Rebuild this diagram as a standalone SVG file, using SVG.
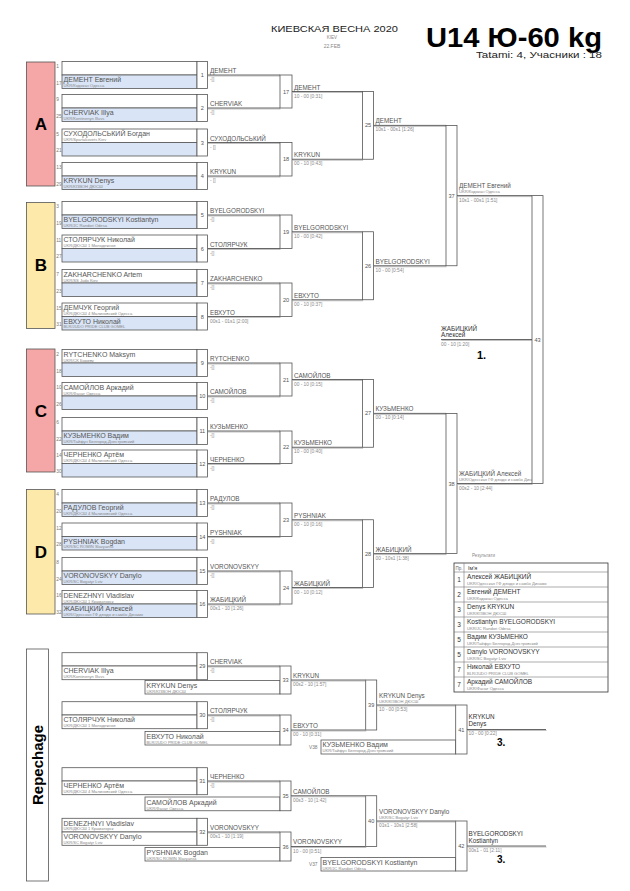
<svg xmlns="http://www.w3.org/2000/svg" width="630" height="891" viewBox="0 0 630 891">
<style>
text{font-family:"Liberation Sans",Arial,sans-serif}
.nm{font-size:7px;fill:#555}
.cl{font-size:4.1px;fill:#888}
.sd{font-size:4.8px;fill:#777}
.w{font-size:6.3px;fill:#555}
.sc{font-size:4.8px;fill:#888}
.num{font-size:5.6px;fill:#555;text-anchor:middle}
.bx{fill:#fff;stroke:#555;stroke-width:0.8}
.bxb{fill:#d9e4f6;stroke:#555;stroke-width:0.8}
.nb{fill:#fff;stroke:#555;stroke-width:0.8}
.ln{stroke:#555;stroke-width:0.9;fill:none}
.sh{stroke:#bbb;stroke-width:0.9;fill:none}
.pool{font-size:17px;font-weight:bold;fill:#000;text-anchor:middle}
.fw{font-size:6.3px;fill:#333}
.rk{font-size:6.5px;fill:#333;text-anchor:middle}
.rn{font-size:6.5px;fill:#333}
</style>
<rect width="630" height="891" fill="#fff"/>
<g id="header">
<text x="334.5" y="31.5" font-size="9" fill="#222" text-anchor="middle" textLength="127" lengthAdjust="spacingAndGlyphs">КИЕВСКАЯ ВЕСНА 2020</text>
<text x="332" y="39" font-size="4.5" fill="#888" text-anchor="middle">KIEV</text>
<text x="332" y="48" font-size="5" fill="#888" text-anchor="middle">22.FEB</text>
<text x="426" y="46.5" font-size="27" font-weight="bold" fill="#000" textLength="176" lengthAdjust="spacingAndGlyphs">U14 Ю-60 kg</text>
<text x="476" y="58" font-size="8.5" fill="#222" textLength="126" lengthAdjust="spacingAndGlyphs">Tatami: 4, Учасники : 18</text>
</g>
<g id="pools">
<g id="poolA"><rect x="26.5" y="62" width="28.5" height="124" fill="#f5a6a6" stroke="#555" stroke-width="0.8"/><text class="pool" x="41" y="130">A</text></g>
<g id="poolB"><rect x="26.5" y="202.5" width="28.5" height="126" fill="#fde9a9" stroke="#555" stroke-width="0.8"/><text class="pool" x="41" y="271">B</text></g>
<g id="poolC"><rect x="26.5" y="349" width="28.5" height="123" fill="#f5a6a6" stroke="#555" stroke-width="0.8"/><text class="pool" x="41" y="417">C</text></g>
<g id="poolD"><rect x="26.5" y="489.5" width="28.5" height="124.5" fill="#fde9a9" stroke="#555" stroke-width="0.8"/><text class="pool" x="41" y="558">D</text></g>
<g id="repechage"><rect x="26.5" y="649" width="22" height="232" fill="#fff" stroke="#555" stroke-width="0.8"/><text x="43" y="765" font-size="15" font-weight="bold" fill="#000" text-anchor="middle" transform="rotate(-90 43 765)">Repechage</text></g>
</g>
<g id="connectors">
<g class="sh" transform="translate(0.6,1)">
<path d="M207.5,75H280M207.5,108H280M207.5,142.5H280M207.5,176H280M207.5,215H280M207.5,248.5H280M207.5,283H280M207.5,316.5H280M207.5,363H280M207.5,396H280M207.5,431H280M207.5,463.5H280M207.5,503H280M207.5,536.5H280M207.5,571H280M207.5,604H280"/>
<path d="M292,91.5H362.5M292,159.25H362.5M292,231.75H362.5M292,299.75H362.5M292,379.5H362.5M292,447.25H362.5M292,519.75H362.5M292,587.5H362.5"/>
<path d="M373.5,125.4H446M373.5,265.75H446M373.5,413.4H446M373.5,553.6H446M457,195.6H532M457,483.5H532M441,339.5H532"/>
<path d="M207.5,666H280M207.5,715H280M207.5,781H280M207.5,832H280M291,680H365.7M291,730H365.7M291,795.75H365.7M291,846.5H365.7M376.7,705H455.7M376.7,821H455.7M467,729.5H546M467,846H546"/>
</g>
<path class="ln" d="M207.5,75H280M207.5,108H280M207.5,142.5H280M207.5,176H280M207.5,215H280M207.5,248.5H280M207.5,283H280M207.5,316.5H280M207.5,363H280M207.5,396H280M207.5,431H280M207.5,463.5H280M207.5,503H280M207.5,536.5H280M207.5,571H280M207.5,604H280"/>
<path class="ln" d="M292,91.5H362.5M292,159.25H362.5M292,231.75H362.5M292,299.75H362.5M292,379.5H362.5M292,447.25H362.5M292,519.75H362.5M292,587.5H362.5"/>
<path class="ln" d="M373.5,125.4H446M373.5,265.75H446M373.5,413.4H446M373.5,553.6H446"/>
<path class="ln" d="M457,195.6H532M457,483.5H532M441,339.5H532"/>
<path class="ln" d="M207.5,666H280M207.5,715H280M207.5,781H280M207.5,832H280"/>
<path class="ln" d="M291,680H365.7M291,730H365.7M291,795.75H365.7M291,846.5H365.7"/>
<path class="ln" d="M376.7,705H455.7M376.7,821H455.7M467,729.5H546M467,846H546"/>
</g>
<g id="m1" transform="translate(0,61.5)"><rect class="bx" x="62" y="0" width="135" height="13.5"/><rect class="bxb" x="62" y="13.5" width="135" height="13.5"/><rect class="nb" x="197" y="0" width="10.5" height="27"/><text class="num" x="202.3" y="15.5">1</text><text class="sd" x="56.3" y="6.5">1</text><text class="sd" x="56.3" y="23">17</text><text class="nm" x="63.5" y="20.8">ДЕМЕНТ Евгений</text><text class="cl" x="63.5" y="25.4">UKR/Кодокан Одесса</text><text class="w" x="210" y="11.5">ДЕМЕНТ</text><text class="sc" x="210" y="19.5">-[]</text></g>
<g id="m2" transform="translate(0,94.5)"><rect class="bx" x="62" y="0" width="135" height="13.5"/><rect class="bxb" x="62" y="13.5" width="135" height="13.5"/><rect class="nb" x="197" y="0" width="10.5" height="27"/><text class="num" x="202.3" y="15.5">2</text><text class="sd" x="56.3" y="6.5">9</text><text class="sd" x="56.3" y="23">25</text><text class="nm" x="63.5" y="20.8">CHERVIAK Illya</text><text class="cl" x="63.5" y="25.4">UKR/Kontinenyn Illuvs</text><text class="w" x="210" y="11.5">CHERVIAK</text><text class="sc" x="210" y="19.5">-[]</text></g>
<g id="m3" transform="translate(0,129)"><rect class="bx" x="62" y="0" width="135" height="13.5"/><rect class="bxb" x="62" y="13.5" width="135" height="13.5"/><rect class="nb" x="197" y="0" width="10.5" height="27"/><text class="num" x="202.3" y="15.5">3</text><text class="sd" x="56.3" y="6.5">5</text><text class="sd" x="56.3" y="23">21</text><text class="nm" x="63.5" y="7.4">СУХОДОЛЬСЬКИЙ Богдан</text><text class="cl" x="63.5" y="12.2">UKR/Spartakovets Kiev</text><text class="w" x="210" y="11.5">СУХОДОЛЬСЬКИЙ</text><text class="sc" x="210" y="19.5">- []</text></g>
<g id="m4" transform="translate(0,162.5)"><rect class="bx" x="62" y="0" width="135" height="13.5"/><rect class="bxb" x="62" y="13.5" width="135" height="13.5"/><rect class="nb" x="197" y="0" width="10.5" height="27"/><text class="num" x="202.3" y="15.5">4</text><text class="sd" x="56.3" y="6.5">13</text><text class="sd" x="56.3" y="23">29</text><text class="nm" x="63.5" y="20.8">KRYKUN Denys</text><text class="cl" x="63.5" y="25.4">UKR/КІЗВОН ДЮСШ</text><text class="w" x="210" y="11.5">KRYKUN</text><text class="sc" x="210" y="19.5">- []</text></g>
<g id="m5" transform="translate(0,201.5)"><rect class="bx" x="62" y="0" width="135" height="13.5"/><rect class="bxb" x="62" y="13.5" width="135" height="13.5"/><rect class="nb" x="197" y="0" width="10.5" height="27"/><text class="num" x="202.3" y="15.5">5</text><text class="sd" x="56.3" y="6.5">3</text><text class="sd" x="56.3" y="23">19</text><text class="nm" x="63.5" y="20.8">BYELGORODSKYI Kostiantyn</text><text class="cl" x="63.5" y="25.4">UKR/JC Randori Odesa</text><text class="w" x="210" y="11.5">BYELGORODSKYI</text><text class="sc" x="210" y="19.5">-[]</text></g>
<g id="m6" transform="translate(0,235)"><rect class="bx" x="62" y="0" width="135" height="13.5"/><rect class="bxb" x="62" y="13.5" width="135" height="13.5"/><rect class="nb" x="197" y="0" width="10.5" height="27"/><text class="num" x="202.3" y="15.5">6</text><text class="sd" x="56.3" y="6.5">11</text><text class="sd" x="56.3" y="23">27</text><text class="nm" x="63.5" y="7.4">СТОЛЯРЧУК Николай</text><text class="cl" x="63.5" y="12.2">UKR/ДЮСШ 1 Молодежное</text><text class="w" x="210" y="11.5">СТОЛЯРЧУК</text><text class="sc" x="210" y="19.5">-[]</text></g>
<g id="m7" transform="translate(0,269.5)"><rect class="bx" x="62" y="0" width="135" height="13.5"/><rect class="bxb" x="62" y="13.5" width="135" height="13.5"/><rect class="nb" x="197" y="0" width="10.5" height="27"/><text class="num" x="202.3" y="15.5">7</text><text class="sd" x="56.3" y="6.5">7</text><text class="sd" x="56.3" y="23">23</text><text class="nm" x="63.5" y="7.4">ZAKHARCHENKO Artem</text><text class="cl" x="63.5" y="12.2">UKR/SS Judo Kiev</text><text class="w" x="210" y="11.5">ZAKHARCHENKO</text><text class="sc" x="210" y="19.5">-[]</text></g>
<g id="m8" transform="translate(0,303)"><rect class="bx" x="62" y="0" width="135" height="13.5"/><rect class="bxb" x="62" y="13.5" width="135" height="13.5"/><rect class="nb" x="197" y="0" width="10.5" height="27"/><text class="num" x="202.3" y="15.5">8</text><text class="sd" x="56.3" y="6.5">15</text><text class="sd" x="56.3" y="23">31</text><text class="nm" x="63.5" y="7.4">ДЕМЧУК Георгий</text><text class="cl" x="63.5" y="12.2">UKR/ДЮСШ 4 Малиновский Одесса</text><text class="nm" x="63.5" y="20.8">ЕВХУТО Николай</text><text class="cl" x="63.5" y="25.4">BLR/JUDO PRIDE CLUB GOMEL</text><text class="w" x="210" y="11.5">ЕВХУТО</text><text class="sc" x="210" y="19.5">00s1 - 01s1 [2:00]</text></g>
<g id="m9" transform="translate(0,349.5)"><rect class="bx" x="62" y="0" width="135" height="13.5"/><rect class="bxb" x="62" y="13.5" width="135" height="13.5"/><rect class="nb" x="197" y="0" width="10.5" height="27"/><text class="num" x="202.3" y="15.5">9</text><text class="sd" x="56.3" y="6.5">2</text><text class="sd" x="56.3" y="23">18</text><text class="nm" x="63.5" y="7.4">RYTCHENKO Maksym</text><text class="cl" x="63.5" y="12.2">UKR/CK Бориву</text><text class="w" x="210" y="11.5">RYTCHENKO</text><text class="sc" x="210" y="19.5">-[]</text></g>
<g id="m10" transform="translate(0,382.5)"><rect class="bx" x="62" y="0" width="135" height="13.5"/><rect class="bxb" x="62" y="13.5" width="135" height="13.5"/><rect class="nb" x="197" y="0" width="10.5" height="27"/><text class="num" x="202.3" y="15.5">10</text><text class="sd" x="56.3" y="6.5">10</text><text class="sd" x="56.3" y="23">26</text><text class="nm" x="63.5" y="7.4">САМОЙЛОВ Аркадий</text><text class="cl" x="63.5" y="12.2">UKR/Фанат Одесса</text><text class="w" x="210" y="11.5">САМОЙЛОВ</text><text class="sc" x="210" y="19.5">-[]</text></g>
<g id="m11" transform="translate(0,417.5)"><rect class="bx" x="62" y="0" width="135" height="13.5"/><rect class="bxb" x="62" y="13.5" width="135" height="13.5"/><rect class="nb" x="197" y="0" width="10.5" height="27"/><text class="num" x="202.3" y="15.5">11</text><text class="sd" x="56.3" y="6.5">6</text><text class="sd" x="56.3" y="23">22</text><text class="nm" x="63.5" y="20.8">КУЗЬМЕНКО Вадим</text><text class="cl" x="63.5" y="25.4">UKR/Тайфун Белгород-Днестровский</text><text class="w" x="210" y="11.5">КУЗЬМЕНКО</text><text class="sc" x="210" y="19.5">-[]</text></g>
<g id="m12" transform="translate(0,450)"><rect class="bx" x="62" y="0" width="135" height="13.5"/><rect class="bxb" x="62" y="13.5" width="135" height="13.5"/><rect class="nb" x="197" y="0" width="10.5" height="27"/><text class="num" x="202.3" y="15.5">12</text><text class="sd" x="56.3" y="6.5">14</text><text class="sd" x="56.3" y="23">30</text><text class="nm" x="63.5" y="7.4">ЧЕРНЕНКО Артём</text><text class="cl" x="63.5" y="12.2">UKR/ДЮСШ 4 Малиновский Одесса</text><text class="w" x="210" y="11.5">ЧЕРНЕНКО</text><text class="sc" x="210" y="19.5">-[]</text></g>
<g id="m13" transform="translate(0,489.5)"><rect class="bx" x="62" y="0" width="135" height="13.5"/><rect class="bxb" x="62" y="13.5" width="135" height="13.5"/><rect class="nb" x="197" y="0" width="10.5" height="27"/><text class="num" x="202.3" y="15.5">13</text><text class="sd" x="56.3" y="6.5">4</text><text class="sd" x="56.3" y="23">20</text><text class="nm" x="63.5" y="20.8">РАДУЛОВ Георгий</text><text class="cl" x="63.5" y="25.4">UKR/ДЮСШ 4 Малиновский Одесса</text><text class="w" x="210" y="11.5">РАДУЛОВ</text><text class="sc" x="210" y="19.5">-[]</text></g>
<g id="m14" transform="translate(0,523)"><rect class="bx" x="62" y="0" width="135" height="13.5"/><rect class="bxb" x="62" y="13.5" width="135" height="13.5"/><rect class="nb" x="197" y="0" width="10.5" height="27"/><text class="num" x="202.3" y="15.5">14</text><text class="sd" x="56.3" y="6.5">12</text><text class="sd" x="56.3" y="23">28</text><text class="nm" x="63.5" y="20.8">PYSHNIAK Bogdan</text><text class="cl" x="63.5" y="25.4">UKR/SC ROMIN Slavyansk</text><text class="w" x="210" y="11.5">PYSHNIAK</text><text class="sc" x="210" y="19.5">-[]</text></g>
<g id="m15" transform="translate(0,557.5)"><rect class="bx" x="62" y="0" width="135" height="13.5"/><rect class="bxb" x="62" y="13.5" width="135" height="13.5"/><rect class="nb" x="197" y="0" width="10.5" height="27"/><text class="num" x="202.3" y="15.5">15</text><text class="sd" x="56.3" y="6.5">8</text><text class="sd" x="56.3" y="23">24</text><text class="nm" x="63.5" y="20.8">VORONOVSKYY Danylo</text><text class="cl" x="63.5" y="25.4">UKR/SC Bogatyr Lviv</text><text class="w" x="210" y="11.5">VORONOVSKYY</text><text class="sc" x="210" y="19.5">-[]</text></g>
<g id="m16" transform="translate(0,590.5)"><rect class="bx" x="62" y="0" width="135" height="13.5"/><rect class="bxb" x="62" y="13.5" width="135" height="13.5"/><rect class="nb" x="197" y="0" width="10.5" height="27"/><text class="num" x="202.3" y="15.5">16</text><text class="sd" x="56.3" y="6.5">16</text><text class="sd" x="56.3" y="23">32</text><text class="nm" x="63.5" y="7.4">DENEZHNYI Vladislav</text><text class="cl" x="63.5" y="12.2">UKR/ДЮСШ 1 Краматорск</text><text class="nm" x="63.5" y="20.8">ЖАБИЦКИЙ Алексей</text><text class="cl" x="63.5" y="25.4">UKR/Одесская ГФ дзюдо и самбо Динамо</text><text class="w" x="210" y="11.5">ЖАБИЦКИЙ</text><text class="sc" x="210" y="19.5">00s1 - 10 [1:26]</text></g>
<g id="m17"><rect class="nb" x="280" y="75" width="12" height="33"/><text class="num" x="286" y="93.5">17</text><text class="w" x="294" y="89.5">ДЕМЕНТ</text><text class="sc" x="294" y="97.5">10 - 00 [0:31]</text></g>
<g id="m18"><rect class="nb" x="280" y="142.5" width="12" height="33.5"/><text class="num" x="286" y="161.3">18</text><text class="w" x="294" y="157.3">KRYKUN</text><text class="sc" x="294" y="165.3">00 - 10 [0:43]</text></g>
<g id="m19"><rect class="nb" x="280" y="215" width="12" height="33.5"/><text class="num" x="286" y="233.8">19</text><text class="w" x="294" y="229.8">BYELGORODSKYI</text><text class="sc" x="294" y="237.8">10 - 00 [0:42]</text></g>
<g id="m20"><rect class="nb" x="280" y="283" width="12" height="33.5"/><text class="num" x="286" y="301.8">20</text><text class="w" x="294" y="297.8">ЕВХУТО</text><text class="sc" x="294" y="305.8">00 - 10 [0:37]</text></g>
<g id="m21"><rect class="nb" x="280" y="363" width="12" height="33"/><text class="num" x="286" y="381.5">21</text><text class="w" x="294" y="377.5">САМОЙЛОВ</text><text class="sc" x="294" y="385.5">00 - 10 [0:15]</text></g>
<g id="m22"><rect class="nb" x="280" y="431" width="12" height="32.5"/><text class="num" x="286" y="449.3">22</text><text class="w" x="294" y="445.3">КУЗЬМЕНКО</text><text class="sc" x="294" y="453.3">10 - 00 [0:40]</text></g>
<g id="m23"><rect class="nb" x="280" y="503" width="12" height="33.5"/><text class="num" x="286" y="521.8">23</text><text class="w" x="294" y="517.8">PYSHNIAK</text><text class="sc" x="294" y="525.8">00 - 10 [0:16]</text></g>
<g id="m24"><rect class="nb" x="280" y="571" width="12" height="33"/><text class="num" x="286" y="589.5">24</text><text class="w" x="294" y="585.5">ЖАБИЦКИЙ</text><text class="sc" x="294" y="593.5">00 - 10 [0:12]</text></g>
<g id="m25"><rect class="nb" x="362.5" y="91.5" width="11" height="67.75"/><text class="num" x="368" y="127.4">25</text><text class="w" x="375.5" y="123.4">ДЕМЕНТ</text><text class="sc" x="375.5" y="131.4">10s1 - 00s1 [1:26]</text></g>
<g id="m26"><rect class="nb" x="362.5" y="231.75" width="11" height="68"/><text class="num" x="368" y="267.8">26</text><text class="w" x="375.5" y="263.8">BYELGORODSKYI</text><text class="sc" x="375.5" y="271.8">10 - 00 [0:54]</text></g>
<g id="m27"><rect class="nb" x="362.5" y="379.5" width="11" height="67.75"/><text class="num" x="368" y="415.4">27</text><text class="w" x="375.5" y="411.4">КУЗЬМЕНКО</text><text class="sc" x="375.5" y="419.4">00 - 10 [0:14]</text></g>
<g id="m28"><rect class="nb" x="362.5" y="519.75" width="11" height="67.75"/><text class="num" x="368" y="555.6">28</text><text class="w" x="375.5" y="551.6">ЖАБИЦКИЙ</text><text class="sc" x="375.5" y="559.6">00 - 10s1 [1:38]</text></g>
<g id="m37"><rect class="nb" x="446" y="125.4" width="11" height="140.35"/><text class="num" x="451.5" y="197.6">37</text><text class="w" x="459" y="188">ДЕМЕНТ Евгений</text><text class="cl" x="459" y="192.6">UKR/Кодокан Одесса</text><text class="sc" x="459" y="202">10s1 - 00s1 [1:51]</text></g>
<g id="m38"><rect class="nb" x="446" y="413.4" width="11" height="140.2"/><text class="num" x="451.5" y="485.5">38</text><text class="w" x="459" y="476">ЖАБИЦКИЙ Алексей</text><text class="cl" x="459" y="480.6">UKR/Одесская ГФ дзюдо и самбо Динамо</text><text class="sc" x="459" y="490">00s2 - 10 [2:44]</text></g>
<g id="m43"><rect class="nb" x="532" y="195.6" width="11" height="287.9"/><text class="num" x="537.5" y="341.5">43</text><text class="fw" x="441" y="330.8">ЖАБИЦКИЙ</text><text class="fw" x="441" y="337.2" font-size="5.5">Алексей</text><text class="sc" x="441" y="346">00 - 10 [1:20]</text><text x="477" y="359" font-family="Liberation Serif" font-weight="bold" font-size="11" fill="#000">1.</text></g>
<g id="r29" transform="translate(0,652.7)"><rect class="bx" x="62" y="0" width="135" height="13.3"/><rect class="bx" x="62" y="13.3" width="135" height="13.7"/><rect class="nb" x="197" y="0" width="10.5" height="27"/><text class="num" x="202.3" y="15.5">29</text><text class="nm" x="63.5" y="20.8">CHERVIAK Illya</text><text class="cl" x="63.5" y="25.4">UKR/Kontinenyn Illuvs</text><text class="w" x="210" y="11.3">CHERVIAK</text><text class="sc" x="210" y="19.3">-[]</text></g>
<g id="r29b"><rect class="bx" x="145" y="680.5" width="135" height="13.5"/><text class="nm" x="146.5" y="688">KRYKUN Denys</text><text class="cl" x="146.5" y="692.8">UKR/КІЗВОН ДЮСШ</text></g>
<g id="r33"><rect class="nb" x="280" y="666" width="11" height="28"/><text class="num" x="285.5" y="682">33</text><text class="w" x="293" y="678">KRYKUN</text><text class="sc" x="293" y="686">00s2 - 10 [1:57]</text></g>
<g id="r30" transform="translate(0,701.7)"><rect class="bx" x="62" y="0" width="135" height="13.3"/><rect class="bx" x="62" y="13.3" width="135" height="13.7"/><rect class="nb" x="197" y="0" width="10.5" height="27"/><text class="num" x="202.3" y="15.5">30</text><text class="nm" x="63.5" y="20.8">СТОЛЯРЧУК Николай</text><text class="cl" x="63.5" y="25.4">UKR/ДЮСШ 1 Молодежное</text><text class="w" x="210" y="11.3">СТОЛЯРЧУК</text><text class="sc" x="210" y="19.3">-[]</text></g>
<g id="r30b"><rect class="bx" x="145" y="731.5" width="135" height="13.5"/><text class="nm" x="146.5" y="739">ЕВХУТО Николай</text><text class="cl" x="146.5" y="743.8">BLR/JUDO PRIDE CLUB GOMEL</text></g>
<g id="r34"><rect class="nb" x="280" y="715" width="11" height="30"/><text class="num" x="285.5" y="732">34</text><text class="w" x="293" y="728">ЕВХУТО</text><text class="sc" x="293" y="736">00 - 10 [0:31]</text></g>
<g id="r39"><rect class="nb" x="365.7" y="680" width="11" height="50"/><text class="num" x="371.2" y="707">39</text><text class="w" x="379" y="698">KRYKUN Denys</text><text class="cl" x="379" y="702.6">UKR/КІЗВОН ДЮСШ</text><text class="sc" x="379" y="711">10 - 00 [0:53]</text></g>
<g id="r38b"><text class="sd" x="309" y="749" font-size="4.5">V38</text><rect class="bx" x="321" y="740" width="134.7" height="14"/><text class="nm" x="322.5" y="747.3">КУЗЬМЕНКО Вадим</text><text class="cl" x="322.5" y="752.2">UKR/Тайфун Белгород-Днестровский</text></g>
<g id="r41"><rect class="nb" x="455.7" y="705" width="11.3" height="49"/><text class="num" x="461.3" y="731.5">41</text><text class="fw" x="468.5" y="719">KRYKUN</text><text class="fw" x="468.5" y="725.5" font-size="5.5">Denys</text><text class="sc" x="468.5" y="735">10 - 00 [0:22]</text><text x="497" y="746" font-weight="bold" font-size="10" fill="#000">3.</text></g>
<g id="r31" transform="translate(0,767.7)"><rect class="bx" x="62" y="0" width="135" height="13.3"/><rect class="bx" x="62" y="13.3" width="135" height="13.7"/><rect class="nb" x="197" y="0" width="10.5" height="27"/><text class="num" x="202.3" y="15.5">31</text><text class="nm" x="63.5" y="20.8">ЧЕРНЕНКО Артём</text><text class="cl" x="63.5" y="25.4">UKR/ДЮСШ 4 Малиновский Одесса</text><text class="w" x="210" y="11.3">ЧЕРНЕНКО</text><text class="sc" x="210" y="19.3">-[]</text></g>
<g id="r31b"><rect class="bx" x="145" y="797" width="135" height="13.75"/><text class="nm" x="146.5" y="804.8" font-size="7.8">САМОЙЛОВ Аркадий</text><text class="cl" x="146.5" y="809.6">UKR/Фанат Одесса</text></g>
<g id="r35"><rect class="nb" x="280" y="781" width="11" height="29.75"/><text class="num" x="285.5" y="797.8">35</text><text class="w" x="293" y="793.5">САМОЙЛОВ</text><text class="sc" x="293" y="801.5">00s3 - 10 [1:42]</text></g>
<g id="r32" transform="translate(0,818.3)"><rect class="bx" x="62" y="0" width="135" height="13.7"/><rect class="bx" x="62" y="13.7" width="135" height="13.3"/><rect class="nb" x="197" y="0" width="10.5" height="27"/><text class="num" x="202.3" y="15.5">32</text><text class="nm" x="63.5" y="7.4">DENEZHNYI Vladislav</text><text class="cl" x="63.5" y="12.2">UKR/ДЮСШ 1 Краматорск</text><text class="nm" x="63.5" y="20.8">VORONOVSKYY Danylo</text><text class="cl" x="63.5" y="25.4">UKR/SC Bogatyr Lviv</text><text class="w" x="210" y="11.7">VORONOVSKYY</text><text class="sc" x="210" y="19.7">00s1 - 10 [1:19]</text></g>
<g id="r32b"><rect class="bx" x="145" y="847.5" width="135" height="13.5"/><text class="nm" x="146.5" y="855">PYSHNIAK Bogdan</text><text class="cl" x="146.5" y="859.8">UKR/SC ROMIN Slavyansk</text></g>
<g id="r36"><rect class="nb" x="280" y="832" width="11" height="29"/><text class="num" x="285.5" y="848.5">36</text><text class="w" x="293" y="844">VORONOVSKYY</text><text class="sc" x="293" y="852.5">10 - 00 [0:51]</text></g>
<g id="r40"><rect class="nb" x="365.7" y="795.75" width="11" height="50.75"/><text class="num" x="371.2" y="823">40</text><text class="w" x="379" y="814">VORONOVSKYY Danylo</text><text class="cl" x="379" y="818.6">UKR/SC Bogatyr Lviv</text><text class="sc" x="379" y="827">01s1 - 10s1 [2:58]</text></g>
<g id="r37b"><text class="sd" x="309" y="866" font-size="4.5">V37</text><rect class="bx" x="321" y="857.5" width="134.7" height="13.5"/><text class="nm" x="322.5" y="864.8">BYELGORODSKYI Kostiantyn</text><text class="cl" x="322.5" y="869.6">UKR/JC Randori Odesa</text></g>
<g id="r42"><rect class="nb" x="455.7" y="821" width="11.3" height="50"/><text class="num" x="461.3" y="848">42</text><text class="fw" x="468.5" y="836">BYELGORODSKYI</text><text class="fw" x="468.5" y="842.5" font-size="5.5">Kostiantyn</text><text class="sc" x="468.5" y="851.5">00s1 - 01 [2:11]</text><text x="497" y="863" font-weight="bold" font-size="10" fill="#000">3.</text></g>
<g id="results">
<text x="472" y="557" font-size="4.5" fill="#888">Результати</text>
<rect x="454" y="563" width="154" height="129" fill="#fff" stroke="#333" stroke-width="0.8"/>
<path d="M464,563V692M454,572H608M454,587H608M454,602H608M454,617H608M454,632H608M454,647H608M454,662H608M454,677H608" stroke="#777" stroke-width="0.6" fill="none"/>
<text x="455.5" y="569.5" font-size="4.5" fill="#666">Пр.</text><text x="468" y="569.5" font-size="5.5" fill="#333">Ім'я</text>
<text class="rk" x="459" y="582">1</text><text class="rn" x="467" y="579.3">Алексей ЖАБИЦКИЙ</text><text class="cl" x="467" y="584.8">UKR/Одесская ГФ дзюдо и самбо Динамо</text>
<text class="rk" x="459" y="597">2</text><text class="rn" x="467" y="594.3">Евгений ДЕМЕНТ</text><text class="cl" x="467" y="599.8">UKR/Кодокан Одесса</text>
<text class="rk" x="459" y="612">3</text><text class="rn" x="467" y="609.3">Denys KRYKUN</text><text class="cl" x="467" y="614.8">UKR/КІЗВОН ДЮСШ</text>
<text class="rk" x="459" y="627">3</text><text class="rn" x="467" y="624.3">Kostiantyn BYELGORODSKYI</text><text class="cl" x="467" y="629.8">UKR/JC Randori Odesa</text>
<text class="rk" x="459" y="642">5</text><text class="rn" x="467" y="639.3">Вадим КУЗЬМЕНКО</text><text class="cl" x="467" y="644.8">UKR/Тайфун Белгород-Днестровский</text>
<text class="rk" x="459" y="657">5</text><text class="rn" x="467" y="654.3">Danylo VORONOVSKYY</text><text class="cl" x="467" y="659.8">UKR/SC Bogatyr Lviv</text>
<text class="rk" x="459" y="672">7</text><text class="rn" x="467" y="669.3">Николай ЕВХУТО</text><text class="cl" x="467" y="674.8">BLR/JUDO PRIDE CLUB GOMEL</text>
<text class="rk" x="459" y="687">7</text><text class="rn" x="467" y="684.3">Аркадий САМОЙЛОВ</text><text class="cl" x="467" y="689.8">UKR/Фанат Одесса</text>
</g>
</svg>
